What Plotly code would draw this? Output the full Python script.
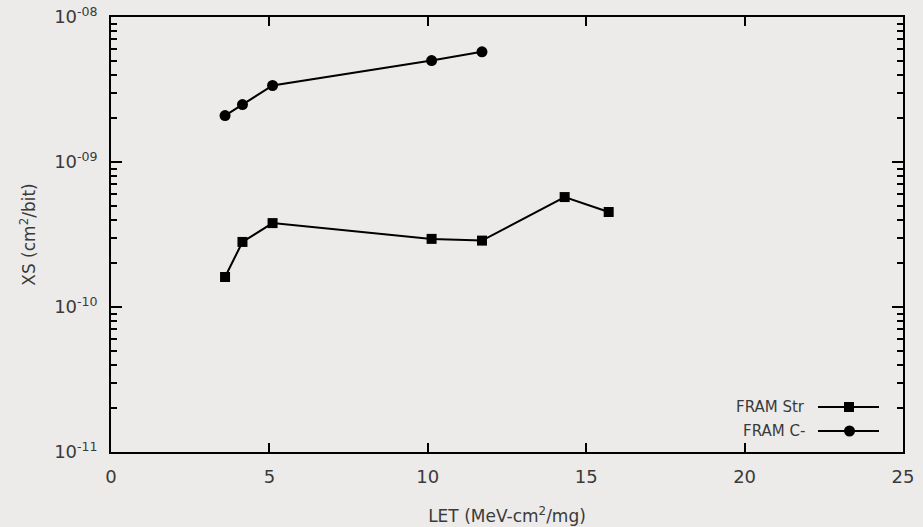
import plotly.graph_objects as go

# Data
let_str = [3.6, 4.15, 5.1, 10.12, 11.71, 14.32, 15.71]
xs_str = [1.61e-10, 2.81e-10, 3.79e-10, 2.95e-10, 2.87e-10, 5.73e-10, 4.52e-10]

let_c = [3.6, 4.15, 5.1, 10.12, 11.71]
xs_c = [2.09e-9, 2.49e-9, 3.37e-9, 5.01e-9, 5.75e-9]

x_ticks = [0, 5, 10, 15, 20, 25]
y_ticks = [1e-11, 1e-10, 1e-9, 1e-8]
y_tick_text = ["10<sup>-11</sup>", "10<sup>-10</sup>", "10<sup>-09</sup>", "10<sup>-08</sup>"]
series_names = ["FRAM Str", "FRAM C-"]

W, H = 923, 527
L, R, T, B = 111, 20, 17, 75
pw, ph = W - L - R, H - T - B

minor_vals = [k * 10.0 ** e for e in (-11, -10, -9) for k in range(2, 10)]

FONT = "DejaVu Sans"
TXT = "#3a3a3a"

fig = go.Figure()
fig.add_trace(go.Scatter(x=let_str, y=xs_str, mode="lines+markers", name=series_names[0],
                         line=dict(color="black", width=2),
                         marker=dict(symbol="square", size=10, color="black"),
                         showlegend=False))
fig.add_trace(go.Scatter(x=let_c, y=xs_c, mode="lines+markers", name=series_names[1],
                         line=dict(color="black", width=2),
                         marker=dict(symbol="circle", size=11, color="black"),
                         showlegend=False))

# Manual legend (text left of the key, gnuplot style)
def px(xp):
    return (xp - L) / pw

def py(yp):
    return (H - B - yp) / ph

legend_rows = [(407, "square"), (431, "circle")]
shapes = []
annotations = []
for name, (yrow, sym) in zip(series_names, legend_rows):
    annotations.append(dict(xref="paper", yref="paper", x=px(807), y=py(yrow), text=name,
                            showarrow=False, xanchor="right", yanchor="middle",
                            font=dict(family=FONT, size=15, color=TXT)))
    shapes.append(dict(type="line", xref="paper", yref="paper", x0=px(818), x1=px(879),
                       y0=py(yrow), y1=py(yrow), line=dict(color="black", width=2)))
    if sym == "square":
        shapes.append(dict(type="rect", xref="paper", yref="paper", x0=px(844), x1=px(854),
                           y0=py(yrow + 5), y1=py(yrow - 5), fillcolor="black",
                           line=dict(color="black", width=0)))
    else:
        shapes.append(dict(type="circle", xref="paper", yref="paper", x0=px(844), x1=px(855),
                           y0=py(yrow + 5.5), y1=py(yrow - 5.5), fillcolor="black",
                           line=dict(color="black", width=0)))

fig.update_layout(
    width=W, height=H,
    margin=dict(l=L, r=R, t=T, b=B, pad=0, autoexpand=False),
    paper_bgcolor="#ecebea",
    plot_bgcolor="rgba(0,0,0,0)",
    font=dict(family=FONT, color=TXT, size=18),
    shapes=shapes,
    annotations=annotations,
    xaxis=dict(range=[0, 25], tickmode="array", tickvals=x_ticks, automargin=False,
               ticks="inside", ticklen=9, tickwidth=1.5, tickcolor="black",
               showline=True, linecolor="black", linewidth=1.5, mirror="ticks",
               showgrid=False, zeroline=False, ticklabelstandoff=8,
               tickfont=dict(family=FONT, size=18, color=TXT),
               title=dict(text="LET (MeV-cm<sup>2</sup>/mg)", standoff=24,
                          font=dict(family=FONT, size=17, color=TXT))),
    yaxis=dict(type="log", range=[-11, -8], tickmode="array", tickvals=y_ticks,
               ticktext=y_tick_text, automargin=False,
               ticks="inside", ticklen=11, tickwidth=1.5, tickcolor="black",
               showline=True, linecolor="black", linewidth=1.5, mirror="ticks",
               showgrid=False, zeroline=False, ticklabelstandoff=8,
               tickfont=dict(family=FONT, size=18, color=TXT),
               minor=dict(tickmode="array", tickvals=minor_vals, ticks="inside",
                          ticklen=6, tickwidth=1.5, tickcolor="black", showgrid=False),
               title=dict(text="XS (cm<sup>2</sup>/bit)", standoff=14,
                          font=dict(family=FONT, size=17, color=TXT))),
)

fig.write_html("out.html")
